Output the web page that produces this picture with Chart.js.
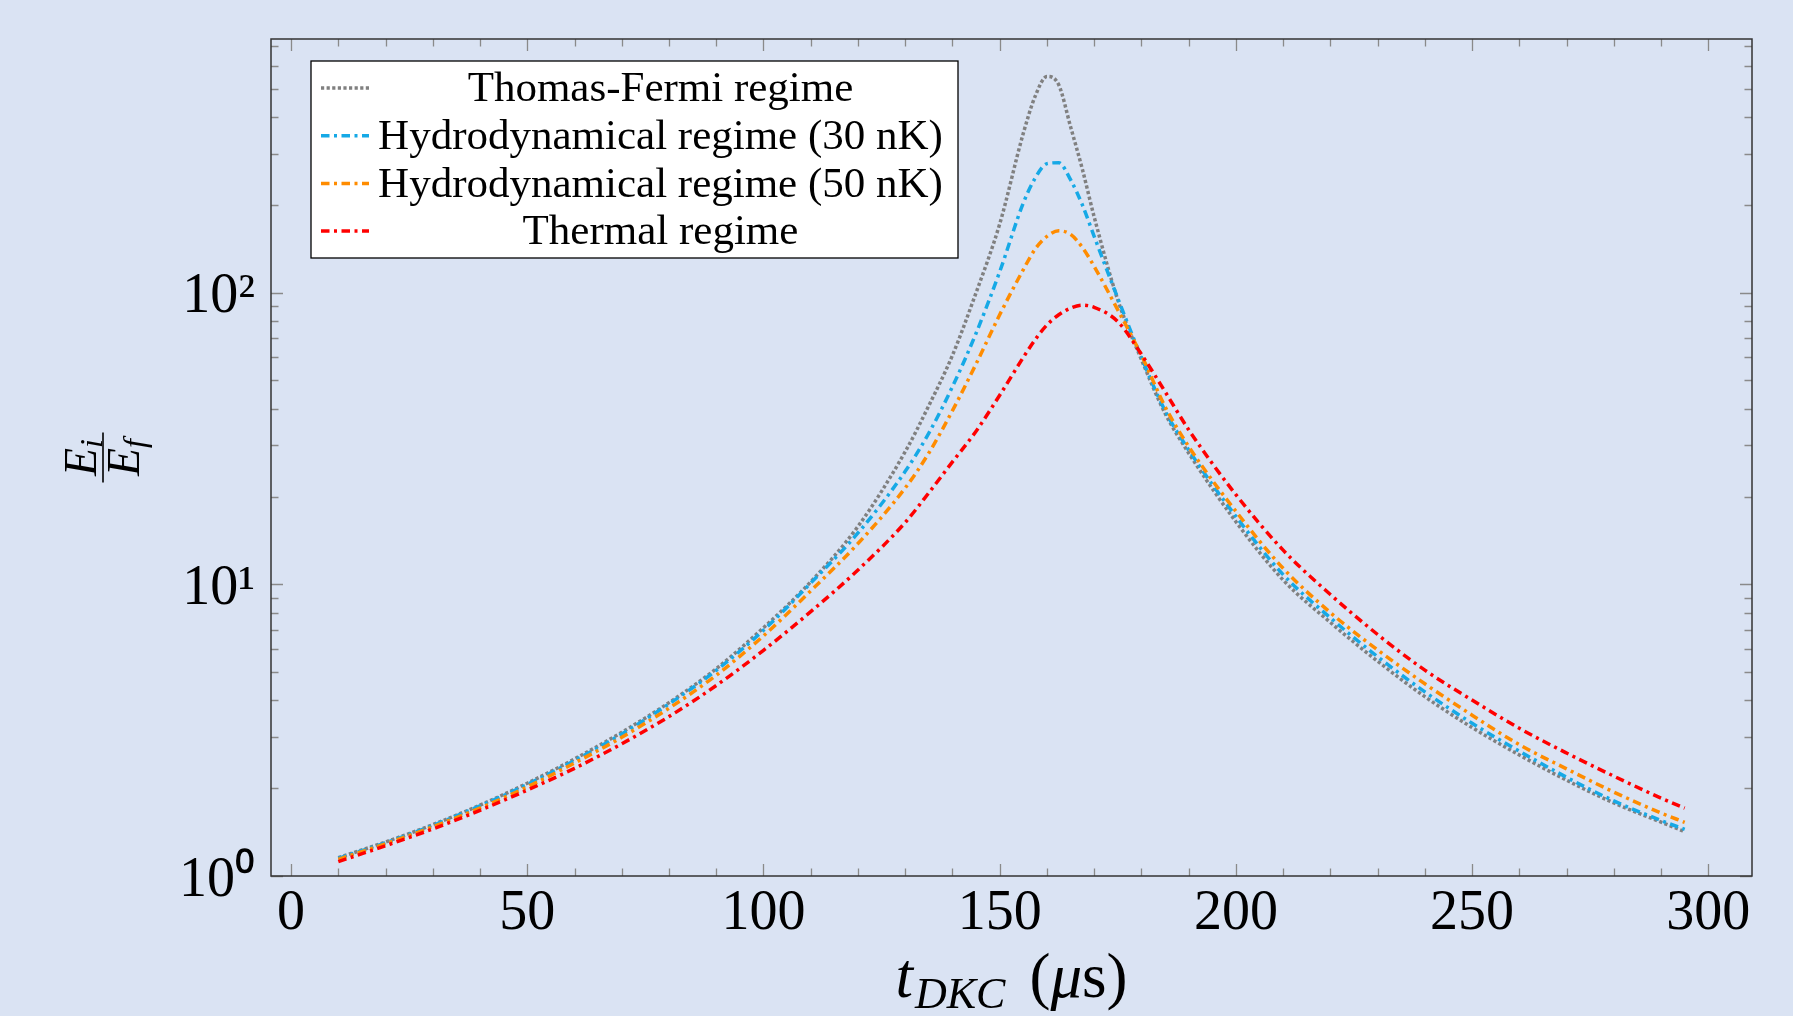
<!DOCTYPE html>
<html>
<head>
<meta charset="utf-8">
<title>Delta-kick cooling energy ratio</title>
<script src="https://cdn.jsdelivr.net/npm/chart.js@4.4.1/dist/chart.umd.min.js"></script>
<style>
  html, body { margin: 0; padding: 0; background: #dae3f3; }
  #wrap { width: 1793px; height: 1016px; }
</style>
</head>
<body>
<div id="wrap"><canvas id="dkcChart" width="1793" height="1016"></canvas></div>

<script>
    // kick time in microseconds
    const tUs = [10, 20, 30, 40, 50, 60, 70, 80, 90, 100, 110, 120, 130, 135, 140, 145, 150, 155, 157.5, 160, 162.5,
        165, 167.5, 170, 175, 180, 185, 190, 200, 210, 220, 230, 240, 250, 260, 270, 280, 290, 295]

    // Ei / Ef
    const thomasFermi = [1.155, 1.308, 1.50, 1.75, 2.08, 2.52, 3.11, 3.93, 5.14, 7.1, 10.2, 15.8, 28.5, 41, 61, 100, 172, 352, 471, 551, 516,
        371, 265, 182, 94.5, 59, 38.6, 28.2, 16.4, 10.35, 7.4, 5.45, 4.12, 3.23, 2.6, 2.13, 1.78, 1.53, 1.42]
    const hydro30 = [1.15, 1.30, 1.49, 1.74, 2.06, 2.49, 3.07, 3.89, 5.07, 6.96, 10.1, 15.0, 24.4, 33, 47.6, 72.6, 118, 203, 247, 277, 279,
        244, 200, 156, 95.7, 60, 39.4, 28.9, 17.1, 10.8, 7.68, 5.65, 4.28, 3.34, 2.68, 2.18, 1.81, 1.55, 1.445]
    const hydro50 = [1.14, 1.29, 1.475, 1.71, 2.02, 2.44, 2.99, 3.76, 4.88, 6.66, 9.5, 13.8, 21.4, 28.2, 39.4, 57, 84, 120, 141, 156, 163,
        158.5, 143, 123, 87.3, 61, 40.7, 29.7, 17.8, 11.35, 8.0, 5.96, 4.56, 3.56, 2.82, 2.33, 1.94, 1.644, 1.528]
    const thermal = [1.12, 1.27, 1.45, 1.68, 1.97, 2.34, 2.84, 3.52, 4.50, 5.94, 8.06, 11.2, 16.3, 20.6, 26.3, 33.5, 44.5, 60, 69, 77.5, 84,
        88.5, 90.6, 89.1, 79.6, 61.5, 45.8, 33.9, 20.3, 13.1, 9.23, 6.73, 5.08, 4.01, 3.21, 2.64, 2.20, 1.85, 1.71]

    const seriesLabels = ["Thomas-Fermi regime", "Hydrodynamical regime (30 nK)", "Hydrodynamical regime (50 nK)", "Thermal regime"]

    const xMajorTicks = [0, 50, 100, 150, 200, 250, 300]
    const xMinorTicks = [10, 20, 30, 40, 60, 70, 80, 90, 110, 120, 130, 140, 160, 170, 180, 190, 210, 220, 230, 240, 260, 270, 280, 290]
    const yMajorTicks = [1, 10, 100]
    const yMinorTicks = [2, 3, 4, 5, 6, 7, 8, 9, 20, 30, 40, 50, 60, 70, 80, 90, 200, 300, 400, 500, 600, 700]
    const yTickLabels = ["10\u2070", "10\u00b9", "10\u00b2"]

    const SERIF = '"Liberation Serif", "Times New Roman", serif'

    const toPoints = (vals) => tUs.map((t, i) => ({ x: t, y: vals[i] }))

    // draw a row of text pieces centred on cx, baseline at y
    const drawRuns = (ctx, runs, cx, y) => {
        let total = 0
        for (const r of runs) {
            ctx.font = r.font
            r.w = ctx.measureText(r.text).width + (r.gap || 0)
            total += r.w
        }
        let x = cx - total / 2
        ctx.textAlign = "left"
        ctx.textBaseline = "alphabetic"
        for (const r of runs) {
            ctx.font = r.font
            ctx.fillText(r.text, x, y + (r.dy || 0))
            x += r.w
        }
    }

    // inward ticks on all four sides + frame
    const frameAndTicks = {
        id: "frameAndTicks",
        afterDatasetsDraw(chart) {
            const { ctx, chartArea: a, scales: { x, y } } = chart
            ctx.save()
            ctx.strokeStyle = "#8a8a8a"
            ctx.lineWidth = 1.3
            const xTicks = (vals, len) => {
                for (const v of vals) {
                    const px = Math.round(x.getPixelForValue(v)) + 0.5
                    ctx.beginPath()
                    ctx.moveTo(px, a.bottom); ctx.lineTo(px, a.bottom - len)
                    ctx.moveTo(px, a.top); ctx.lineTo(px, a.top + len)
                    ctx.stroke()
                }
            }
            const yTicks = (vals, len) => {
                for (const v of vals) {
                    const py = Math.round(y.getPixelForValue(v)) + 0.5
                    ctx.beginPath()
                    ctx.moveTo(a.left, py); ctx.lineTo(a.left + len, py)
                    ctx.moveTo(a.right, py); ctx.lineTo(a.right - len, py)
                    ctx.stroke()
                }
            }
            xTicks(xMajorTicks, 12)
            xTicks(xMinorTicks, 7.5)
            yTicks(yMajorTicks, 12)
            yTicks(yMinorTicks, 7.5)

            ctx.strokeStyle = "#333"
            ctx.lineWidth = 1.5
            ctx.strokeRect(a.left, a.top, a.right - a.left, a.bottom - a.top)
            ctx.restore()
        }
    }

    // pgfplots-like legend box inside the plot
    const boxLegend = {
        id: "boxLegend",
        afterDraw(chart) {
            const { ctx, chartArea: a } = chart
            const left = a.left + 40, top = a.top + 22, w = 647, h = 197
            ctx.save()
            ctx.fillStyle = "#fff"
            ctx.fillRect(left, top, w, h)
            ctx.strokeStyle = "#000"
            ctx.lineWidth = 1.3
            ctx.strokeRect(left, top, w, h)
            chart.data.datasets.forEach((ds, i) => {
                const cy = top + 27 + i * 47.7
                ctx.save()
                ctx.strokeStyle = ds.borderColor
                ctx.lineWidth = ds.borderWidth
                ctx.lineCap = "butt"
                ctx.setLineDash(ds.borderDash)
                ctx.beginPath()
                ctx.moveTo(left + 10, cy)
                ctx.lineTo(left + 58, cy)
                ctx.stroke()
                ctx.restore()
                ctx.fillStyle = "#000"
                ctx.font = `43px ${SERIF}`
                ctx.textAlign = "center"
                ctx.textBaseline = "middle"
                ctx.fillText(ds.label, (left + 58 + left + w - 6) / 2, cy + 2)
            })
            ctx.restore()
        }
    }

    // axis titles with sub-scripts and the fraction on y
    const axisTitles = {
        id: "axisTitles",
        afterDraw(chart) {
            const { ctx, chartArea: a } = chart
            ctx.save()
            ctx.fillStyle = "#000"
            drawRuns(ctx, [
                { text: "t", font: `italic 63px ${SERIF}`, gap: 2 },
                { text: "DKC", font: `italic 44px ${SERIF}`, dy: 11, gap: 24 },
                { text: "(", font: `63px ${SERIF}` },
                { text: "\u03bc", font: `italic 63px ${SERIF}` },
                { text: "s)", font: `63px ${SERIF}` }
            ], (a.left + a.right) / 2, 997)

            ctx.translate(103, (a.top + a.bottom) / 2)
            ctx.rotate(-Math.PI / 2)
            drawRuns(ctx, [
                { text: "E", font: `italic 46px ${SERIF}` },
                { text: "i", font: `italic 32px ${SERIF}`, dy: 6 }
            ], 0, -7)
            ctx.fillRect(-25, -0.8, 50, 1.6)
            drawRuns(ctx, [
                { text: "E", font: `italic 46px ${SERIF}` },
                { text: "f", font: `italic 32px ${SERIF}`, dy: 6 }
            ], 0, 36)
            ctx.restore()
        }
    }

    const styles = [
        { color: "#808080", dash: [3.2, 2.4], width: 3.5 },
        { color: "#16a9e6", dash: [8.5, 4.5, 3, 4.5], width: 3.5 },
        { color: "#ff8c00", dash: [8.5, 4.5, 3, 4.5], width: 3.5 },
        { color: "#ff0000", dash: [8.5, 4.5, 3, 4.5], width: 3.5 }
    ]

    const dkcChart = new Chart(document.getElementById("dkcChart"), {
        type: "line",
        data: {
            datasets: [thomasFermi, hydro30, hydro50, thermal].map((vals, i) => ({
                label: seriesLabels[i],
                data: toPoints(vals),
                borderColor: styles[i].color,
                borderWidth: styles[i].width,
                borderDash: styles[i].dash,
                borderCapStyle: "butt",
                pointRadius: 0,
                fill: false,
                cubicInterpolationMode: "monotone",
                order: 3 - i
            }))
        },
        options: {
            responsive: false,
            animation: false,
            devicePixelRatio: 1,
            layout: { padding: { left: 0, top: 39, right: 41, bottom: 0 } },
            plugins: {
                legend: { display: false },
                tooltip: { enabled: false }
            },
            scales: {
                x: {
                    type: "linear",
                    min: -4.25,
                    max: 309.25,
                    afterBuildTicks: (s) => { s.ticks = xMajorTicks.map(v => ({ value: v })) },
                    afterFit: (s) => { s.height = 140; s.paddingLeft = 0; s.paddingRight = 0 },
                    grid: { display: false, drawTicks: false },
                    border: { display: false },
                    ticks: {
                        color: "#000",
                        padding: 5,
                        maxRotation: 0,
                        font: { family: SERIF, size: 56 }
                    }
                },
                y: {
                    type: "logarithmic",
                    min: 1,
                    max: 741,
                    afterBuildTicks: (s) => { s.ticks = yMajorTicks.map(v => ({ value: v })) },
                    afterFit: (s) => { s.width = 271; s.paddingTop = 0; s.paddingBottom = 0 },
                    grid: { display: false, drawTicks: false },
                    border: { display: false },
                    ticks: {
                        color: "#000",
                        padding: 16,
                        labelOffset: 5,
                        font: { family: SERIF, size: 56 },
                        callback: (v) => yTickLabels[yMajorTicks.indexOf(v)]
                    }
                }
            }
        },
        plugins: [frameAndTicks, boxLegend, axisTitles]
    })
</script>
</body>
</html>
